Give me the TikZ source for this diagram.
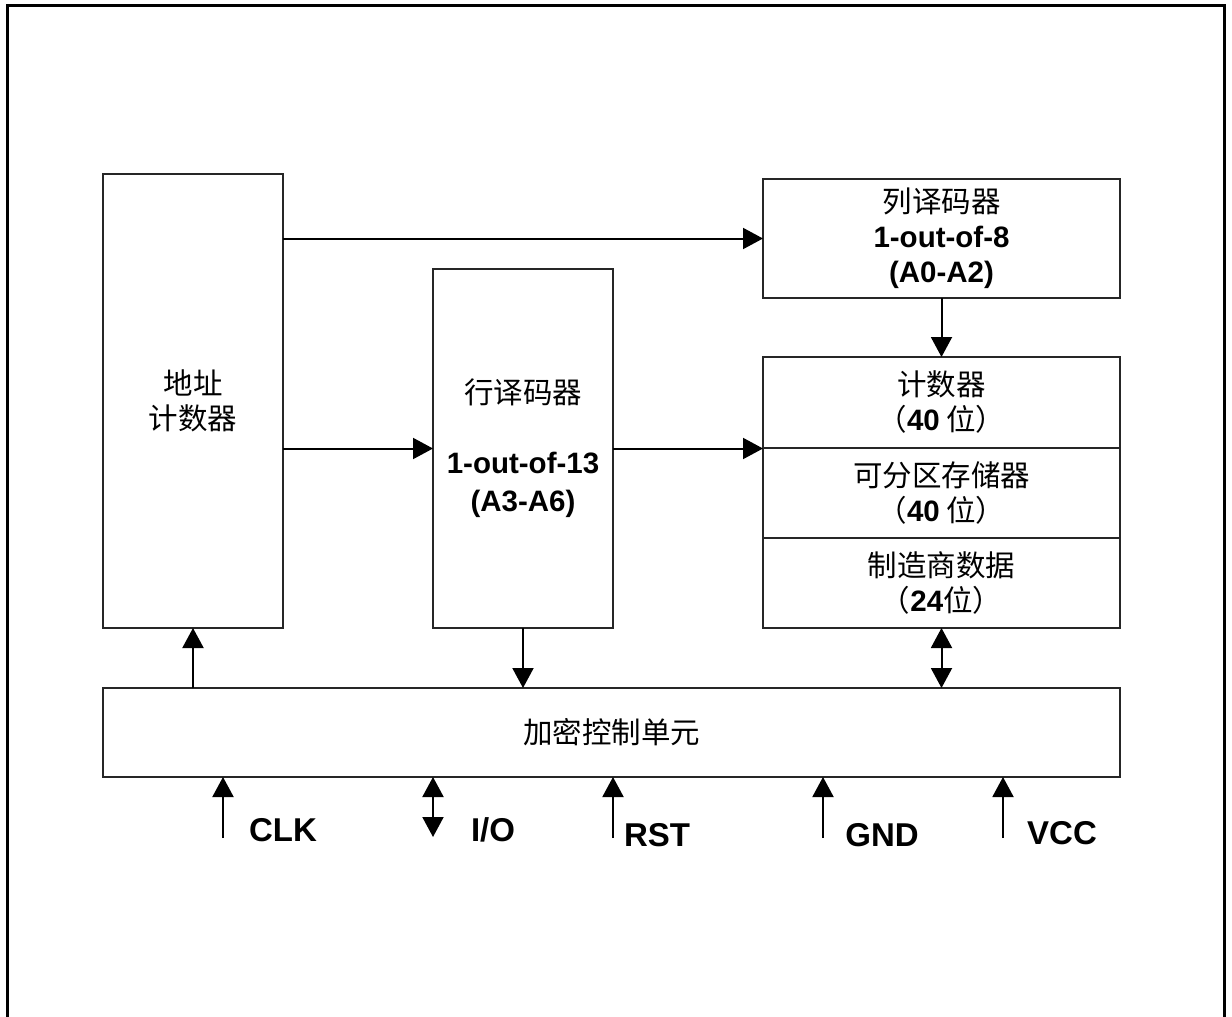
\documentclass[tikz,border=0pt]{standalone}
\usepackage{fontspec}
\setmainfont{Liberation Sans}
\newfontfamily\cjk{Noto Sans CJK SC}
\usetikzlibrary{arrows.meta}
\newcommand\enb[1]{{\normalfont\bfseries #1}}
\tikzset{
  blk/.style={draw=black!85, line width=1.4pt, inner sep=0pt, outer sep=0pt,
    align=center, font=\cjk\fontsize{29.5}{35}\selectfont},
  arr/.style={line width=2pt, -{Triangle[length=20pt,width=21pt]}},
  darr/.style={line width=2pt, {Triangle[length=20pt,width=21pt]}-{Triangle[length=20pt,width=21pt]}},
  pinlbl/.style={inner sep=0pt, font=\bfseries\fontsize{33}{38}\selectfont},
  frame/.style={line width=3pt}
}
\begin{document}
\begin{tikzpicture}[x=1pt,y=-1pt]
\useasboundingbox (0,0) rectangle (1232,1017);
\fill[white] (0,0) rectangle (1232,1017);
\draw[frame] (7.5,1017) -- (7.5,5) -- (1224,5) -- (1224,1017);

\node[blk, minimum width=180pt, minimum height=454pt] (addr) at (193,401) {地址\\计数器};
\node[blk, minimum width=180pt, minimum height=359pt] (rowdec) at (523,448.5)
  {行译码器\\[35pt]\enb{1-out-of-13}\\[3pt]\enb{(A3-A6)}};
\node[blk, minimum width=357pt, minimum height=119pt] (coldec) at (941.5,238.5)
  {列译码器\\\enb{1-out-of-8}\\\enb{(A0-A2)}};
\node[blk, minimum width=357pt, minimum height=91pt] (cnt1) at (941.5,402.5)
  {计数器\\（\enb{40} 位）};
\node[blk, minimum width=357pt, minimum height=90pt] (cnt2) at (941.5,493)
  {可分区存储器\\（\enb{40} 位）};
\node[blk, minimum width=357pt, minimum height=90pt] (cnt3) at (941.5,583)
  {制造商数据\\（\enb{24}位）};
\node[blk, minimum width=1017pt, minimum height=89pt] (enc) at (611.5,732.5)
  {加密控制单元};

\draw[arr] (addr.east |- coldec.west) -- (coldec.west);
\draw[arr] (addr.east |- rowdec.west) -- (rowdec.west);
\draw[arr] (rowdec.east) -- (rowdec.east -| cnt2.north west);
\draw[arr] (coldec.south) -- (cnt1.north);
\draw[arr] (rowdec.south) -- (rowdec.south |- enc.north);
\draw[arr] (addr.south |- enc.north) -- (addr.south);
\draw[darr] (cnt3.south) -- (cnt3.south |- enc.north);

\coordinate (pclk) at (223,838);
\coordinate (pio) at (433,837);
\coordinate (prst) at (613,838);
\coordinate (pgnd) at (823,838);
\coordinate (pvcc) at (1003,838);
\draw[arr] (pclk) -- (pclk |- enc.south);
\draw[darr] (pio) -- (pio |- enc.south);
\draw[arr] (prst) -- (prst |- enc.south);
\draw[arr] (pgnd) -- (pgnd |- enc.south);
\draw[arr] (pvcc) -- (pvcc |- enc.south);

\node[pinlbl] (lclk) at (283,830.5) {CLK};
\node[pinlbl] (lio) at (493,830) {I/O};
\node[pinlbl] (lrst) at (657,835) {RST};
\node[pinlbl] (lgnd) at (882,835) {GND};
\node[pinlbl] (lvcc) at (1062,833) {VCC};
\end{tikzpicture}
\end{document}
